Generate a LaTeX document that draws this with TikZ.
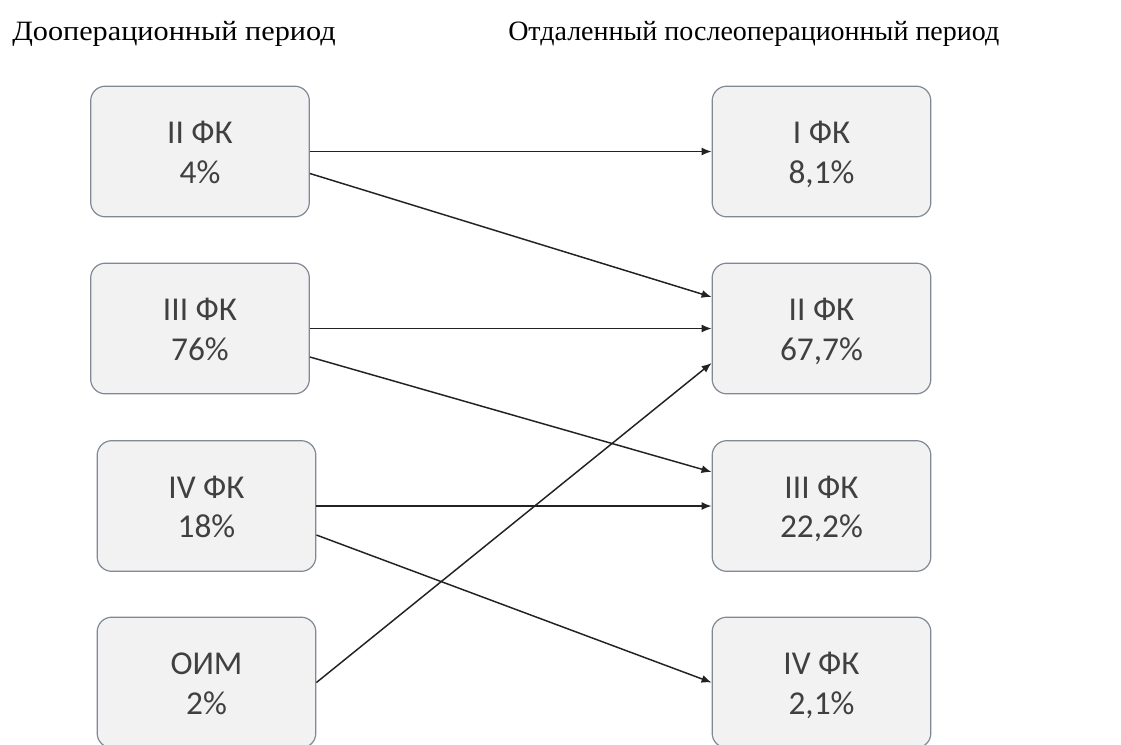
\documentclass[tikz,border=0pt]{standalone}
\usepackage{fontspec}
\setmainfont{Liberation Serif}
\newfontfamily\boxfont{Carlito}
\usetikzlibrary{calc,arrows.meta}
\definecolor{boxfill}{HTML}{F2F2F2}
\definecolor{boxline}{HTML}{7F8A96}
\definecolor{boxtext}{HTML}{404040}
\definecolor{arrowcol}{HTML}{222222}
\newcommand{\topstrut}{\rule{0pt}{\dimexpr\ht\strutbox+6pt\relax}}
\begin{document}
\begin{tikzpicture}[x=0.75pt,y=-0.75pt,
  fkbox/.style={draw=boxline,fill=boxfill,line width=0.9pt,rounded corners=11pt,
    minimum width=164pt,minimum height=98pt,inner sep=0pt,align=center,
    text=boxtext,font=\boxfont\fontsize{25}{29.5}\selectfont},
  header/.style={font=\fontsize{21}{25}\selectfont,text=black,inner sep=0pt,anchor=west},
  link/.style={draw=arrowcol,line width=1.1pt,-{Latex[length=7.5pt,width=6pt]}}]
\useasboundingbox (0,0) rectangle (1121,744);
\clip (0,0) rectangle (1121,744);
\fill[white] (0,0) rectangle (1121,744);
\node[header] (h1) at (12,34) {\scalebox{1.08}[1]{Дооперационный период}};
\node[header] (h2) at (508,34) {Отдаленный послеоперационный период};
% left column
\node[fkbox] (L1) at (200,151.5) {\topstrut II ФК\\4\%\strut};
\node[fkbox] (L2) at (200,328.5) {\topstrut III ФК\\76\%\strut};
\node[fkbox] (L3) at (206.5,506) {\topstrut IV ФК\\18\%\strut};
\node[fkbox] (L4) at (206.5,682.5) {\topstrut ОИМ\\2\%\strut};
% right column
\node[fkbox] (R1) at (821.5,151.5) {\topstrut I ФК\\8,1\%\strut};
\node[fkbox] (R2) at (821.5,328.5) {\topstrut II ФК\\67,7\%\strut};
\node[fkbox] (R3) at (821.5,506) {\topstrut III ФК\\22,2\%\strut};
\node[fkbox] (R4) at (821.5,682.5) {\topstrut IV ФК\\2,1\%\strut};
% connectors
\draw[link] (L1.east) -- (R1.west);
\draw[link] ($(L1.east)+(0,22)$) -- ($(R2.west)+(0,-31.5)$);
\draw[link] (L2.east) -- (R2.west);
\draw[link] ($(L2.east)+(0,28.5)$) -- ($(R3.west)+(0,-34)$);
\draw[link] (L3.east) -- (R3.west);
\draw[link] ($(L3.east)+(0,29)$) -- (R4.west);
\draw[link] (L4.east) -- ($(R2.west)+(0,34.5)$);
\end{tikzpicture}
\end{document}
